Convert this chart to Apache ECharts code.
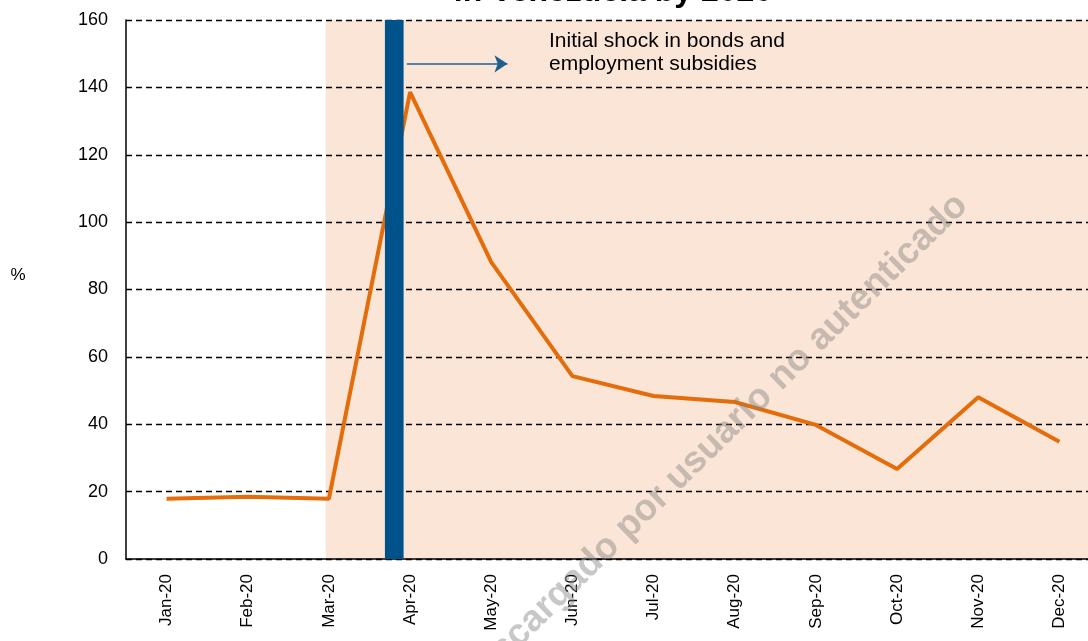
<!DOCTYPE html>
<html>
<head>
<meta charset="utf-8">
<script src="https://cdn.jsdelivr.net/npm/echarts@6/dist/echarts.min.js"></script>
<style>
  html, body { margin: 0; padding: 0; background: #fff; overflow: hidden; }
  #main { width: 1088px; height: 641px; }
</style>
</head>
<body>
<div id="main"></div>
<script>
  // months on the x axis
  var months = ["Jan-20", "Feb-20", "Mar-20", "Apr-20", "May-20", "Jun-20",
                "Jul-20", "Aug-20", "Sep-20", "Oct-20", "Nov-20", "Dec-20"];
  // % values
  var ratio = [17.9, 18.5, 17.9, 138.6, 88.1, 54.3, 48.4, 46.6, 39.8, 26.7, 48, 34.8];
  var yTicks = { min: 0, max: 160, step: 20 };

  // annotations, in month units (0 = left edge of Jan, 12 = right edge of Dec)
  var shadeFrom = [2.46, 12];
  var shockBand = [3.19, 3.42];
  var arrowSpan = [3.46, 4.7];
  var arrowLevel = 147;

  var myChart = echarts.init(document.getElementById("main"));

  var font = "Liberation Sans, Arial, sans-serif";

  var option = {
    animation: false,
    grid: {
      left: 126,
      width: 974, // plot runs a little past the right edge, like the original
      top: 20,
      bottom: 82,
      containLabel: false,
      outerBoundsMode: "none"
    },
    xAxis: [
      {
        type: "category",
        data: months,
        boundaryGap: true,
        z: 1,
        axisLine: { lineStyle: { color: "#000", width: 1.5 } },
        axisTick: { show: false },
        axisLabel: {
          rotate: 90,
          margin: 15,
          fontSize: 17,
          color: "#000",
          fontFamily: font
        },
        splitLine: { show: false }
      },
      {
        // hidden month-unit axis used for the annotations
        type: "value",
        min: 0,
        max: 12,
        show: false
      }
    ],
    yAxis: {
      type: "value",
      min: yTicks.min,
      max: yTicks.max,
      interval: yTicks.step,
      z: 1,
      axisLine: { show: true, lineStyle: { color: "#000", width: 1.5 } },
      axisTick: { show: false },
      axisLabel: {
        margin: 18,
        fontSize: 18,
        color: "#000",
        fontFamily: font
      },
      splitLine: {
        lineStyle: { color: "#000", width: 1.4, type: [6, 4] }
      }
    },
    series: [
      {
        // shaded period
        name: "shade",
        type: "line",
        xAxisIndex: 1,
        data: [],
        z: 0,
        silent: true,
        markArea: {
          silent: true,
          z: 0,
          itemStyle: { color: "#FBE5D6" },
          data: [[{ xAxis: shadeFrom[0] }, { xAxis: shadeFrom[1] }]]
        }
      },
      {
        name: "ratio",
        type: "line",
        data: ratio,
        symbol: "none",
        z: 3,
        lineStyle: { color: "#E46C0A", width: 4 },
        itemStyle: { color: "#E46C0A" }
      },
      {
        // shock bar and arrow
        name: "shock",
        type: "line",
        xAxisIndex: 1,
        data: [],
        z: 4,
        silent: true,
        markArea: {
          silent: true,
          z: 4,
          itemStyle: { color: "#00538A" },
          data: [[{ xAxis: shockBand[0] }, { xAxis: shockBand[1] }]]
        },
        markLine: {
          silent: true,
          z: 5,
          symbol: ["none", "arrow"],
          symbolSize: 13,
          label: { show: false },
          lineStyle: { color: "#1F5F8F", width: 1.5, type: "solid" },
          data: [[
            { coord: [arrowSpan[0], arrowLevel] },
            { coord: [arrowSpan[1], arrowLevel] }
          ]]
        }
      }
    ],
    graphic: [
      {
        type: "text",
        x: 613,
        y: -8,
        z: 10,
        style: {
          text: "in Venezuela by 2020",
          font: "bold 32px " + font,
          fill: "#000",
          align: "center",
          verticalAlign: "middle"
        }
      },
      {
        // y axis unit
        type: "text",
        x: 18,
        y: 275,
        z: 10,
        style: {
          text: "%",
          font: "17px " + font,
          fill: "#000",
          align: "center",
          verticalAlign: "middle"
        }
      },
      {
        type: "text",
        x: 549,
        y: 30,
        z: 10,
        style: {
          text: "Initial shock in bonds and\nemployment subsidies",
          font: "21px " + font,
          fill: "#000",
          lineHeight: 23,
          align: "left",
          verticalAlign: "top"
        }
      },
      {
        // watermark
        type: "text",
        x: 975,
        y: 213,
        rotation: 44.4 * Math.PI / 180,
        z: 20,
        silent: true,
        style: {
          text: "descargado por usuario no autenticado",
          font: "bold 37px " + font,
          fill: "rgba(130,130,130,0.45)",
          align: "right",
          verticalAlign: "bottom"
        }
      }
    ]
  };

  myChart.setOption(option);
</script>
</body>
</html>
